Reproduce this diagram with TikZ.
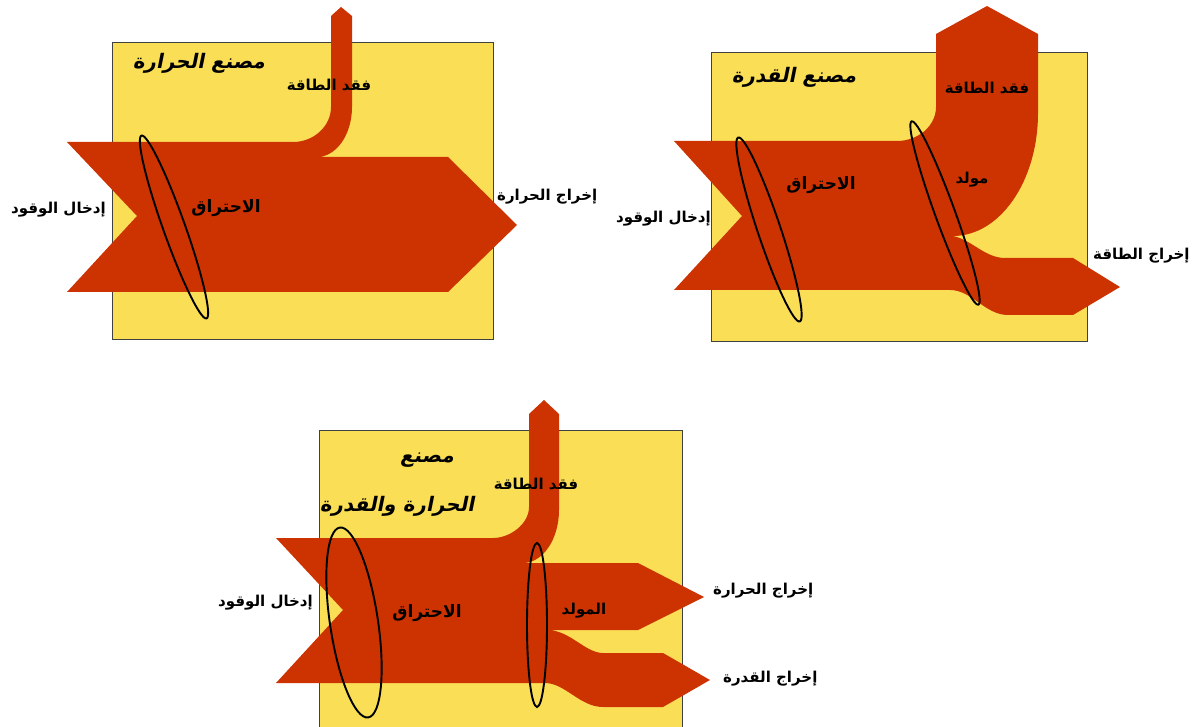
\documentclass[tikz,border=0pt]{standalone}
\usepackage{fontspec}
\newfontfamily\arabicfont[Script=Arabic]{DejaVu Sans}
\newfontfamily\arabicslant[Script=Arabic,FakeSlant=0.2]{DejaVu Sans Bold}
\TeXXeTstate=1
\definecolor{plantyellow}{RGB}{249,222,86}
\definecolor{flowred}{RGB}{204,51,0}

\begin{document}
\begin{tikzpicture}[x=1pt,y=-1pt,
	plantbox/.style={fill=plantyellow,draw=black!75,line width=0.8pt},
	flow/.style={fill=flowred,draw=none},
	ring/.style={draw=black,line width=1.9pt},
	lbl/.style={font=\fontsize{15}{17}\selectfont\arabicfont\bfseries,inner sep=0pt},
	biglbl/.style={font=\fontsize{17}{19}\selectfont\arabicfont\bfseries,inner sep=0pt},
	ttl/.style={font=\fontsize{20}{22}\selectfont\arabicslant,inner sep=0pt}]
	\useasboundingbox (0,0) rectangle (1200,727);

	% heat plant
	\path[plantbox] (112,42) rectangle (493,339);
	\path[flow] (67,142) -- (293,142) .. controls (314,142) and (331,126) .. (331,107)
		-- (331,16) -- (341,7) -- (352,16) -- (352,107)
		.. controls (352,135) and (336,157) .. (317,157)
		-- (448,157) -- (517,225) -- (448,292) -- (67,292) -- (137,216) -- cycle;
	\draw[ring,rotate around={-70.4:(174,227)}] (174,227) ellipse [x radius=97, y radius=11];
	\node[ttl] (titleA) at (199,63) {\beginR مصنع الحرارة\endR};
	\node[lbl] (lossA) at (329,85) {\beginR فقد الطاقة\endR};
	\node[biglbl] (combA) at (226,208) {\beginR الاحتراق\endR};
	\node[lbl,anchor=east] (fuelA) at (106,210) {\beginR إدخال الوقود\endR};
	\node[lbl,anchor=west] (heatA) at (497,197) {\beginR إخراج الحرارة\endR};

	% power plant
	\path[plantbox] (711,52) rectangle (1087,341);
	\path[flow] (674,141) -- (897,141) .. controls (918,141) and (936,126) .. (936,107)
		-- (936,34) -- (987,6) -- (1038,34) -- (1038,113)
		.. controls (1038,181) and (1000,236) .. (953,236)
		.. controls (972,240) and (985,258) .. (1005,258)
		-- (1073,258) -- (1120,287) -- (1073,315) -- (1008,315)
		.. controls (985,315) and (972,290) .. (950,290)
		-- (674,290) -- (742,216) -- cycle;
	\draw[ring,rotate around={-71.5:(769,229.5)}] (769,229.5) ellipse [x radius=97, y radius=11.5];
	\draw[ring,rotate around={-70:(945,213)}] (945,213) ellipse [x radius=97.5, y radius=10];
	\node[ttl] (titleB) at (794,77) {\beginR مصنع القدرة\endR};
	\node[lbl] (lossB) at (987,88) {\beginR فقد الطاقة\endR};
	\node[biglbl] (combB) at (821,185) {\beginR الاحتراق\endR};
	\node[lbl] (genB) at (972,180) {\beginR مولد\endR};
	\node[lbl,anchor=east] (fuelB) at (711,219) {\beginR إدخال الوقود\endR};
	\node[lbl,anchor=west] (outB) at (1093,256) {\beginR إخراج الطاقة\endR};

	% combined heat and power plant
	\fill[plantyellow] (319,430) rectangle (682,727);
	\draw[black!75,line width=0.8pt] (319,727) -- (319,430) -- (682,430) -- (682,727);
	\path[flow] (276,538) -- (493,538) .. controls (510,538) and (529,524) .. (529,507)
		-- (529,414) -- (544,400) -- (559,414) -- (559,510)
		.. controls (559,539) and (543,563) .. (523,563)
		-- (638,563) -- (704,597) -- (638,630) -- (547,630)
		.. controls (570,630) and (585,653) .. (603,653)
		-- (663,653) -- (710,680) -- (663,707) -- (603,707)
		.. controls (580,707) and (565,683) .. (545,683)
		-- (276,683) -- (343,610) -- cycle;
	\draw[ring,rotate around={-81.5:(354,622.5)}] (354,622.5) ellipse [x radius=96, y radius=24];
	\draw[ring] (537,625) ellipse [x radius=10, y radius=82];
	\node[ttl] (titleC) at (427,460) {\beginR مصنع\endR};
	\node[ttl] (titleCb) at (397,506) {\beginR الحرارة والقدرة\endR};
	\node[lbl] (lossC) at (536,484) {\beginR فقد الطاقة\endR};
	\node[biglbl] (combC) at (427,613) {\beginR الاحتراق\endR};
	\node[lbl] (genC) at (584,611) {\beginR المولد\endR};
	\node[lbl,anchor=east] (fuelC) at (313,603) {\beginR إدخال الوقود\endR};
	\node[lbl,anchor=west] (heatC) at (713,591) {\beginR إخراج الحرارة\endR};
	\node[lbl,anchor=west] (powerC) at (723,679) {\beginR إخراج القدرة\endR};
\end{tikzpicture}
\end{document}
